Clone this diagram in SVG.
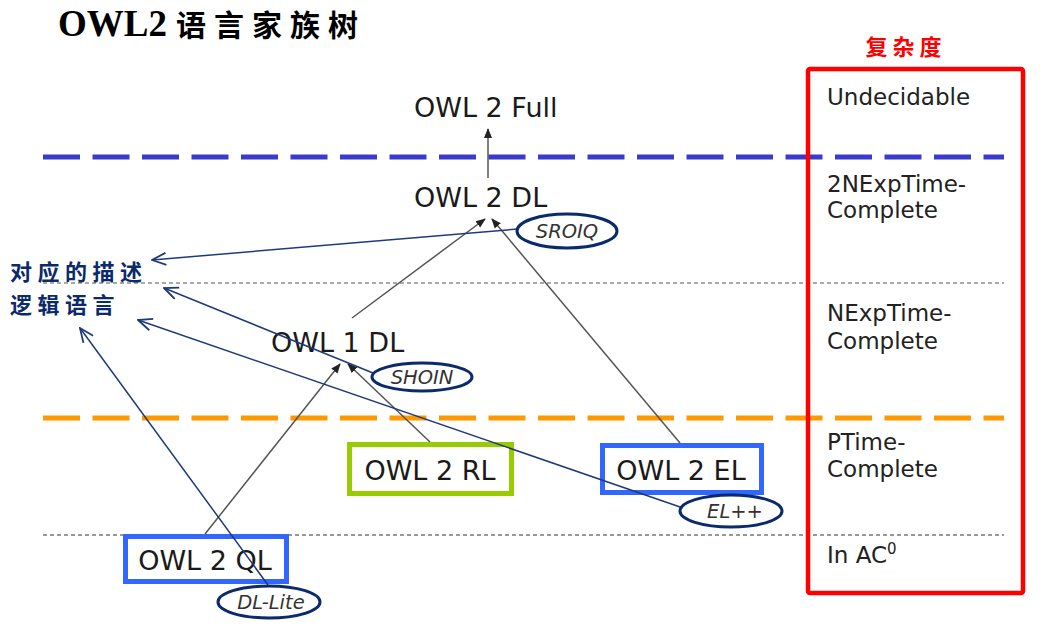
<svg xmlns="http://www.w3.org/2000/svg" width="1053" height="630" viewBox="0 0 1053 630">
<style>
.lbl{font-family:"DejaVu Sans","Verdana",sans-serif;font-size:23px;fill:#222}
.node{font-family:"DejaVu Sans","Verdana",sans-serif;font-size:27px;fill:#1a1a1a}
.dl{font-family:"DejaVu Sans","Verdana",sans-serif;font-size:19.5px;font-style:italic;fill:#333}
.ell{fill:#fff;stroke:#0a2a6b;stroke-width:3}
.gray{stroke:#555;stroke-width:1.5;fill:none;marker-end:url(#ah)}
.navy{stroke:#1f3a7a;stroke-width:1.5;fill:none;marker-end:url(#oh)}
.cn{font-family:"Noto Sans CJK SC",sans-serif;font-weight:bold}
</style>
<defs>
<marker id="ah" markerWidth="10" markerHeight="10" refX="9" refY="5" orient="auto" markerUnits="userSpaceOnUse">
<path d="M0,1 L10,5 L0,9 Z" fill="#222"/>
</marker>
<marker id="oh" markerWidth="16" markerHeight="14" refX="15" refY="7" orient="auto" markerUnits="userSpaceOnUse">
<path d="M1,1 L15,7 L1,13" fill="none" stroke="#1f3a7a" stroke-width="1.8"/>
</marker>
</defs>
<rect width="1053" height="630" fill="#fff"/>
<g id="title">
<text x="58" y="36" font-family="Liberation Serif,serif" font-weight="bold" font-size="37" fill="#000">OWL2</text>
<text x="176" y="36" class="cn" font-size="30" letter-spacing="8" fill="#000">语言家族树</text>
</g>
<g id="levels">
<line x1="43" y1="157" x2="1004" y2="157" stroke="#3a3acc" stroke-width="5" stroke-dasharray="37 12.5"/>
<line x1="43" y1="418" x2="1004" y2="418" stroke="#ff9900" stroke-width="5" stroke-dasharray="37 12.5"/>
<line x1="43" y1="283" x2="1004" y2="283" stroke="#555" stroke-width="1.2" stroke-dasharray="4 3"/>
<line x1="43" y1="535" x2="1004" y2="535" stroke="#333" stroke-width="1.2" stroke-dasharray="4 3"/>
</g>
<g id="complexity">
<text x="906" y="55" class="cn" font-size="22" letter-spacing="5" fill="#ff0000" text-anchor="middle">复杂度</text>
<rect x="808" y="69" width="215" height="524" rx="2" fill="none" stroke="#ff0000" stroke-width="4.5"/>
<text x="827" y="105" class="lbl">Undecidable</text>
<text x="827" y="192" class="lbl">2NExpTime-</text>
<text x="827" y="218" class="lbl">Complete</text>
<text x="827" y="321" class="lbl">NExpTime-</text>
<text x="827" y="349" class="lbl">Complete</text>
<text x="827" y="450" class="lbl">PTime-</text>
<text x="827" y="477" class="lbl">Complete</text>
<text x="827" y="563" class="lbl">In AC<tspan dy="-9" font-size="15">0</tspan></text>
</g>
<g id="owl2full"><text x="414" y="117" class="node">OWL 2 Full</text></g>
<g id="owl2dl"><text x="414" y="207" class="node">OWL 2 DL</text></g>
<g id="owl1dl"><text x="271" y="352" class="node">OWL 1 DL</text></g>
<g id="owl2rl">
<rect x="349.5" y="444.5" width="162" height="49" fill="#fff" stroke="#99cc00" stroke-width="5"/>
<text x="430" y="480" class="node" text-anchor="middle">OWL 2 RL</text>
</g>
<g id="owl2el">
<rect x="602.5" y="445.5" width="159" height="47" fill="#fff" stroke="#3366ff" stroke-width="5"/>
<text x="681" y="480" class="node" text-anchor="middle">OWL 2 EL</text>
</g>
<g id="owl2ql">
<rect x="125.5" y="536.5" width="161" height="45" fill="#fff" stroke="#3366ff" stroke-width="5"/>
<text x="205" y="570" class="node" text-anchor="middle">OWL 2 QL</text>
</g>
<g id="connectors">
<line class="gray" x1="488" y1="178" x2="488" y2="129"/>
<line class="gray" x1="352" y1="318" x2="485" y2="219"/>
<line class="gray" x1="680" y1="443" x2="492" y2="219"/>
<line class="gray" x1="205" y1="534" x2="340" y2="364"/>
<line class="gray" x1="430" y1="442" x2="348" y2="364"/>
<line class="navy" x1="518" y1="229" x2="152" y2="260"/>
<line class="navy" x1="373" y1="373" x2="164" y2="288"/>
<line class="navy" x1="683" y1="508" x2="138" y2="320"/>
<line class="navy" x1="268" y1="585" x2="80" y2="328"/>
</g>
<g id="desc">
<text x="10" y="280" class="cn" font-size="22" letter-spacing="5.5" fill="#0a2a6b">对应的描述</text>
<text x="10" y="313" class="cn" font-size="22" letter-spacing="5.5" fill="#0a2a6b">逻辑语言</text>
</g>
<g id="sroiq"><ellipse class="ell" cx="567" cy="231" rx="50" ry="17"/><text x="567" y="238" class="dl" text-anchor="middle">SROIQ</text></g>
<g id="shoin"><ellipse class="ell" cx="422" cy="377" rx="50" ry="14"/><text x="422" y="384" class="dl" text-anchor="middle">SHOIN</text></g>
<g id="elpp"><ellipse class="ell" cx="731" cy="511" rx="51" ry="16"/><text x="735" y="518" class="dl" text-anchor="middle">EL++</text></g>
<g id="dllite"><ellipse class="ell" cx="269" cy="602" rx="51" ry="16"/><text x="271" y="609" class="dl" text-anchor="middle">DL-Lite</text></g>
</svg>
